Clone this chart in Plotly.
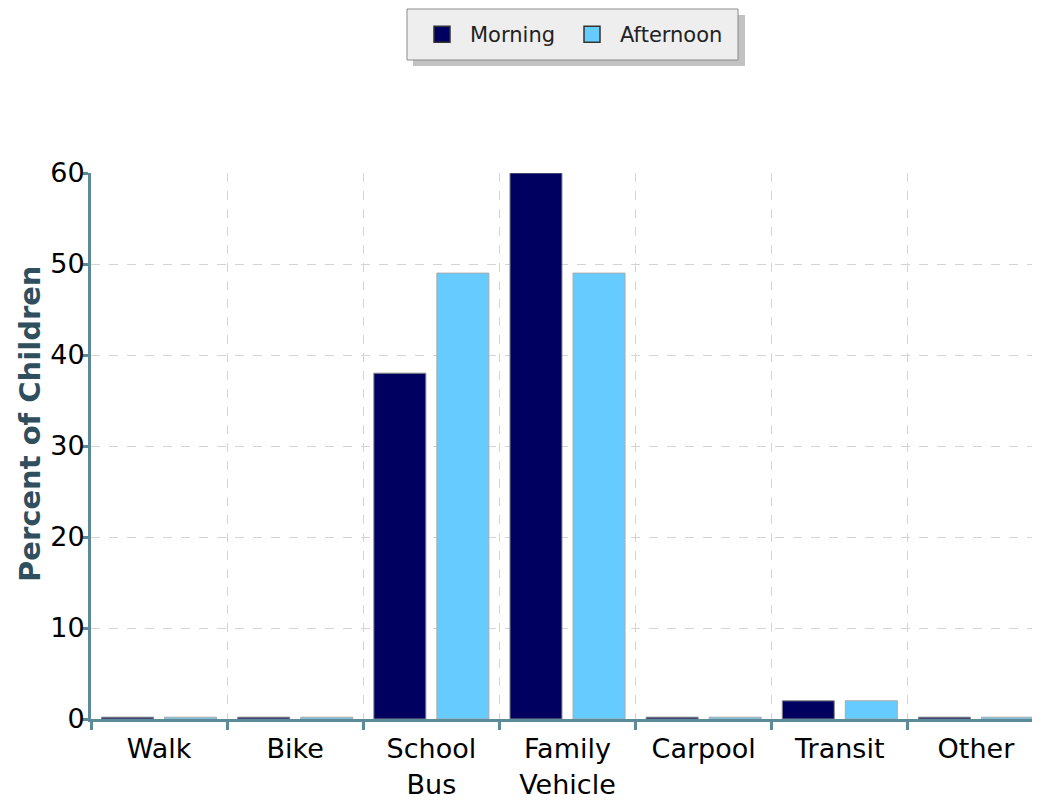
import plotly.graph_objects as go

categories = ["Walk", "Bike", "School<br>Bus", "Family<br>Vehicle", "Carpool", "Transit", "Other"]
morning = [0.2, 0.2, 38, 60, 0.2, 2, 0.2]
afternoon = [0.2, 0.2, 49, 49, 0.2, 2, 0.2]
series_names = ["Morning", "Afternoon"]
series_colors = ["#000060", "#66ccff"]
y_title = "Percent of Children"

# page body has an 8px margin: figure origin sits at screen (8, 8)
OFF = 8
PL, PR, PT, PB = 91, 1044, 173, 719  # plot area in screen pixels
PW, PH = PR - PL, PB - PT


def px(x):
    return (x - PL) / PW


def py(y):
    return (PB - y) / PH


fig = go.Figure()
fig.add_trace(go.Bar(x=categories, y=morning, name=series_names[0], showlegend=False,
                     marker=dict(color=series_colors[0], line=dict(color="#888888", width=1))))
fig.add_trace(go.Bar(x=categories, y=afternoon, name=series_names[1], showlegend=False,
                     marker=dict(color=series_colors[1], line=dict(color="#aaaaaa", width=1))))
for nm, col in zip(series_names, series_colors):
    fig.add_trace(go.Scatter(x=[None], y=[None], mode="markers", name=nm,
                             marker=dict(symbol="square", size=16, color=col,
                                         line=dict(color="#333333", width=1.5))))
# invisible spacer entry so the last legend label is not clipped
fig.add_trace(go.Scatter(x=[None], y=[None], mode="markers", name=" ", hoverinfo="skip",
                         marker=dict(size=1, color="rgba(0,0,0,0)", line=dict(width=0))))

# legend shadow and box
fig.add_shape(type="rect", xref="paper", yref="paper",
              x0=px(413), x1=px(745), y0=py(66), y1=py(15),
              fillcolor="#c2c2c2", line=dict(width=0), layer="above")
fig.add_shape(type="rect", xref="paper", yref="paper",
              x0=px(407), x1=px(738), y0=py(60), y1=py(9),
              fillcolor="#eeeeee", line=dict(color="#8a8a8a", width=1), layer="above")

# y-axis title
fig.add_annotation(text="<b>" + y_title + "</b>", textangle=-90, xref="paper", yref="paper",
                   x=px(30), y=py(424), xanchor="center", yanchor="middle", showarrow=False,
                   font=dict(size=29, color="#2f4f5f", family="DejaVu Sans"))

axis_col = "#5b8a99"
fig.update_layout(
    width=1040, height=801,
    margin=dict(l=PL - OFF, r=1040 - (PR - OFF), t=PT - OFF, b=801 - (PB - OFF), autoexpand=False),
    plot_bgcolor="white", paper_bgcolor="white",
    barmode="group", bargap=0.074, bargroupgap=0.175,
    font=dict(family="DejaVu Sans", color="black"),
    showlegend=True,
    legend=dict(orientation="h", xref="container", yref="container",
                x=(414 - OFF) / 1040, xanchor="left", y=1 - (34.5 - OFF) / 801, yanchor="middle",
                bgcolor="rgba(0,0,0,0)", borderwidth=0,
                entrywidth=89, entrywidthmode="pixels",
                font=dict(size=21, color="#222222"), itemwidth=46),
    xaxis=dict(tickson="boundaries", showgrid=True, gridcolor="#d4d4d4", griddash="dash",
               gridwidth=1, ticks="outside", ticklen=8, tickwidth=3, tickcolor=axis_col,
               showline=True, linecolor=axis_col, linewidth=3, automargin=False,
               ticklabelstandoff=4,
               tickfont=dict(size=27, color="black")),
    yaxis=dict(range=[0, 60], dtick=10, showgrid=True, gridcolor="#d4d4d4", griddash="dash",
               ticks="outside", ticklen=6, tickwidth=3, tickcolor=axis_col,
               showline=True, linecolor=axis_col, linewidth=3, zeroline=False, automargin=False,
               ticklabelstandoff=-8,
               tickfont=dict(size=27, color="black")),
)
fig.write_html("out.html")
